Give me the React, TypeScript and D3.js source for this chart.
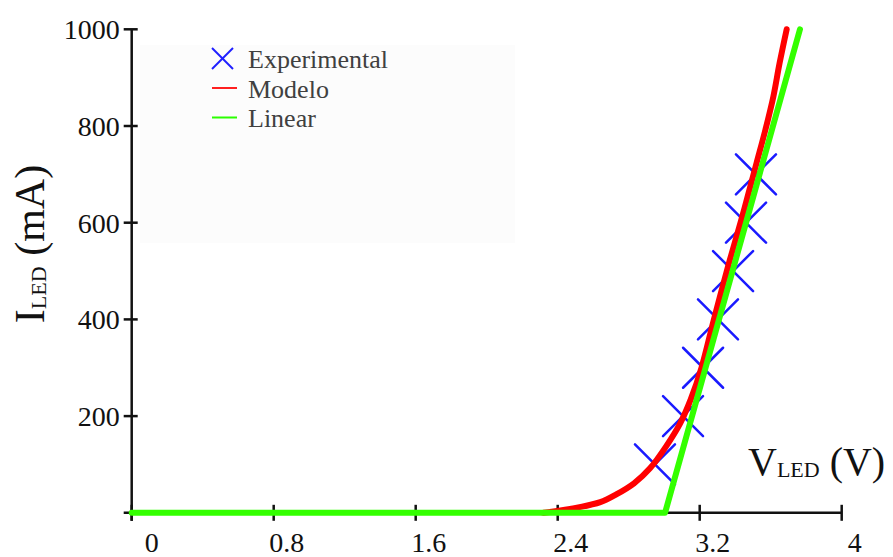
import * as d3 from "d3";

// ── data ──
const X_TICKS = [0, 0.8, 1.6, 2.4, 3.2, 4];
const Y_TICKS = [200, 400, 600, 800, 1000];

// Experimental points (V, mA)
const EXP_V = [2.948, 3.106, 3.219, 3.303, 3.388, 3.461, 3.517];
const EXP_I = [100, 200, 300, 400, 500, 600, 700];

// Model curve (V, mA)
const MODEL_V = [2.32, 2.47, 2.64, 2.73, 2.83, 2.92, 3.01, 3.09, 3.15, 3.21, 3.28, 3.36, 3.43, 3.47, 3.52, 3.57, 3.615, 3.65, 3.69];
const MODEL_I = [0, 8, 22, 38, 61, 92, 137, 185, 235, 300, 400, 510, 600, 654, 723, 792, 861, 930, 1000];

// Linear approximation (V, mA)
const LIN_V = [0, 3.005, 3.765];
const LIN_I = [0, 0, 1000];

const LEGEND = [
  { label: "Experimental", kind: "cross", color: "#1f1fff" },
  { label: "Modelo", kind: "line", color: "#ff2020" },
  { label: "Linear", kind: "line", color: "#2bff00" },
];

const W = 893;
const H = 557;
const FONT = "Liberation Serif, DejaVu Serif, serif";

const RED = "#ff0000";
const GREEN = "#33ff00";
const BLUE = "#1a1aff";

export default function App() {
  const x = d3.scaleLinear().domain([0, 4]).range([131.7, 841.7]);
  const y = d3.scaleLinear().domain([0, 1000]).range([512.8, 29.3]);

  const modelPts: [number, number][] = MODEL_V.map((v, i) => [v, MODEL_I[i]]);
  const linPts: [number, number][] = LIN_V.map((v, i) => [v, LIN_I[i]]);

  const smooth = d3.line<[number, number]>()
    .x((d) => x(d[0]))
    .y((d) => y(d[1]))
    .curve(d3.curveCatmullRom.alpha(0.5));
  const straight = d3.line<[number, number]>()
    .x((d) => x(d[0]))
    .y((d) => y(d[1]));

  const y0 = y(0);
  const x0 = x(0);
  const CR = 20; // half size of experimental crosses

  return (
    <svg width={W} height={H}
      style={{ position: "absolute", left: 0, top: 0, background: "#fff", fontFamily: FONT }}>
      {/* faint legend backdrop */}
      <rect x={140} y={45} width={375} height={198} fill="#fcfcfc" />

      {/* axes */}
      <g stroke="#111" strokeWidth={2.5}>
        <line x1={x0} x2={x0} y1={y(1000)} y2={y0 + 8} />
        <line x1={x0 - 8} x2={x(4)} y1={y0} y2={y0} />
        {Y_TICKS.map((t) => (
          <line key={"yt" + t} x1={x0 - 8} x2={x0 + 6} y1={y(t)} y2={y(t)} />
        ))}
        {X_TICKS.map((t) => (
          <line key={"xt" + t} x1={x(t)} x2={x(t)} y1={y0 - 8} y2={y0 + 8} />
        ))}
      </g>

      {/* tick labels */}
      <g style={{ fontFamily: FONT, fontSize: "28px" }} fill="#111">
        {Y_TICKS.map((t) => (
          <text key={"yl" + t} x={x0 - 12} y={y(t)} dy="0.35em" textAnchor="end">
            {t}
          </text>
        ))}
        {X_TICKS.map((t) => (
          <text key={"xl" + t} x={x(t) + (t === 0 ? 20 : 13)} y={552} textAnchor="middle">
            {t}
          </text>
        ))}
      </g>

      {/* axis titles */}
      <text transform="translate(44,244) rotate(-90)" textAnchor="middle"
        style={{ fontFamily: FONT, fontSize: "42px" }} fill="#111">
        I<tspan style={{ fontSize: "22px" }} dy={2}>LED</tspan><tspan dy={-2}> (mA)</tspan>
      </text>
      <text x={748} y={475} style={{ fontFamily: FONT, fontSize: "40px" }} fill="#111">
        V<tspan style={{ fontSize: "22px" }} dy={2}>LED</tspan><tspan dy={-2}> (V)</tspan>
      </text>

      {/* experimental crosses */}
      <g stroke={BLUE} strokeWidth={2.5} strokeLinecap="round">
        {EXP_V.map((v, i) => {
          const cx = x(v);
          const cy = y(EXP_I[i]);
          return (
            <g key={"e" + i}>
              <line x1={cx - CR} y1={cy - CR} x2={cx + CR} y2={cy + CR} />
              <line x1={cx - CR} y1={cy + CR} x2={cx + CR} y2={cy - CR} />
            </g>
          );
        })}
      </g>

      {/* model and linear curves */}
      <path d={smooth(modelPts) || ""} fill="none" stroke={RED} strokeWidth={6} strokeLinecap="round" />
      <path d={straight(linPts) || ""} fill="none" stroke={GREEN} strokeWidth={6}
        strokeLinecap="round" strokeLinejoin="round" />

      {/* legend */}
      <g style={{ fontFamily: FONT, fontSize: "26px" }} fill="#404040">
        {LEGEND.map((l, i) => {
          const rowY = 68 + i * 29.5;
          const midY = rowY - 9.5;
          return (
            <g key={l.label}>
              {l.kind === "cross" ? (
                <g stroke={l.color} strokeWidth={2}>
                  <line x1={212} y1={midY - 10.5} x2={233} y2={midY + 10.5} />
                  <line x1={212} y1={midY + 10.5} x2={233} y2={midY - 10.5} />
                </g>
              ) : (
                <line x1={212} x2={237} y1={midY} y2={midY} stroke={l.color} strokeWidth={2} />
              )}
              <text x={248} y={rowY}>{l.label}</text>
            </g>
          );
        })}
      </g>
    </svg>
  );
}
